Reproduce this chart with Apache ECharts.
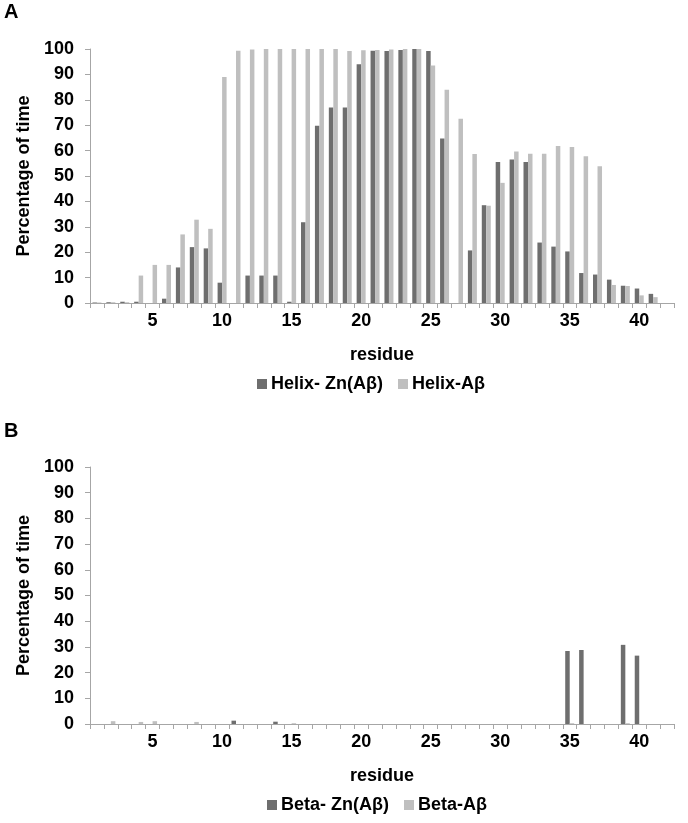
<!DOCTYPE html>
<html>
<head>
<meta charset="utf-8">
<script src="https://cdn.jsdelivr.net/npm/echarts@6/dist/echarts.min.js"></script>
<style>
  html, body { margin: 0; padding: 0; background: #fff; }
  #chart { width: 688px; height: 823px; }
</style>
</head>
<body>
<div id="chart"></div>
<script>
// residue numbers (x categories)
const residues = ['1','2','3','4','5','6','7','8','9','10','11','12','13','14','15','16','17','18','19','20','21',
  '22','23','24','25','26','27','28','29','30','31','32','33','34','35','36','37','38','39','40','41','42'];

// panel A: helix content (% of time)
const helixZn = [0.2, 0.3, 0.5, 0.5, 0, 1.7, 14, 22, 21.5, 8, 0, 10.8, 10.8, 10.8, 0.5, 31.8, 69.8, 77, 77, 94,
  99.3, 99.2, 99.6, 100, 99.2, 64.8, 0, 20.7, 38.5, 55.5, 56.5, 55.5, 23.8, 22.2, 20.3, 11.8, 11.2, 9.2, 6.8, 5.7, 3.6, 0];
const helixAb = [0.2, 0.3, 0.3, 10.8, 15, 15, 27, 32.8, 29.2, 89, 99.3, 99.8, 100, 100, 100, 100, 100, 100, 99.2, 99.5,
  99.6, 99.8, 100, 100, 93.5, 84, 72.5, 58.7, 38.3, 47.3, 59.6, 58.8, 58.8, 61.8, 61.4, 57.8, 53.8, 7.1, 6.7, 3, 2.3, 0];

// panel B: beta content (% of time)
const betaZn = [0, 0, 0, 0, 0, 0, 0, 0, 0, 0, 1.3, 0, 0, 0.9, 0, 0, 0, 0, 0, 0,
  0, 0, 0, 0, 0, 0, 0, 0, 0, 0, 0, 0, 0, 0, 28.4, 28.8, 0, 0, 30.8, 26.6, 0, 0];
const betaAb = [0, 1.1, 0, 0.8, 1.1, 0, 0, 0.8, 0, 0, 0, 0, 0, 0, 0.3, 0, 0, 0, 0, 0,
  0, 0, 0, 0, 0, 0, 0, 0, 0, 0, 0, 0, 0, 0, 0.3, 0, 0, 0, 0.3, 0, 0, 0];

const yTicks = [0, 10, 20, 30, 40, 50, 60, 70, 80, 90, 100];

const darkGrey = '#6e6e6e';
const lightGrey = '#bfbfbf';
const axisGrey = '#a6a6a6';
const font = 'Liberation Sans, Arial, sans-serif';

const chart = echarts.init(document.getElementById('chart'));

function xAxisFor(gridIndex) {
  return {
    type: 'category',
    gridIndex: gridIndex,
    data: residues,
    name: 'residue',
    nameLocation: 'middle',
    nameGap: 43,
    nameTextStyle: { fontFamily: font, fontWeight: 'bold', fontSize: 18, color: '#000' },
    axisLine: { lineStyle: { color: axisGrey, width: 1 } },
    axisTick: { show: true, interval: 0, length: 5, lineStyle: { color: axisGrey } },
    axisLabel: {
      interval: function (index, value) { return (index + 1) % 5 === 0; },
      margin: 9,
      fontFamily: font, fontWeight: 'bold', fontSize: 18, color: '#000'
    },
    splitLine: { show: false }
  };
}

function yAxisFor(gridIndex) {
  return {
    type: 'value',
    gridIndex: gridIndex,
    min: yTicks[0],
    max: yTicks[yTicks.length - 1],
    interval: yTicks[1] - yTicks[0],
    name: 'Percentage of time',
    nameLocation: 'middle',
    nameGap: 54,
    nameTextStyle: { fontFamily: font, fontWeight: 'bold', fontSize: 18, color: '#000' },
    axisLine: { show: true, lineStyle: { color: axisGrey, width: 1 } },
    axisTick: { show: true, length: 5, lineStyle: { color: axisGrey } },
    axisLabel: { margin: 16, fontFamily: font, fontWeight: 'bold', fontSize: 18, color: '#000' },
    splitLine: { show: false }
  };
}

function barSeries(name, data, color, idx) {
  return {
    name: name,
    type: 'bar',
    xAxisIndex: idx,
    yAxisIndex: idx,
    data: data,
    barWidth: 4.5,
    barGap: '0%',
    itemStyle: { color: color },
    animation: false
  };
}

const option = {
  backgroundColor: '#fff',
  animation: false,
  title: [
    { text: 'A', left: 4, top: 2, padding: 0, textStyle: { fontFamily: font, fontWeight: 'bold', fontSize: 20, color: '#000' } },
    { text: 'B', left: 4, top: 421, padding: 0, textStyle: { fontFamily: font, fontWeight: 'bold', fontSize: 20, color: '#000' } }
  ],
  legend: [
    {
      data: ['Helix- Zn(Aβ)', 'Helix-Aβ'],
      left: 252, top: 370,
      itemWidth: 10, itemHeight: 10, itemGap: 15,
      icon: 'rect',
      textStyle: { fontFamily: font, fontWeight: 'bold', fontSize: 18, color: '#000', padding: [0, 0, 0, -1] }
    },
    {
      data: ['Beta- Zn(Aβ)', 'Beta-Aβ'],
      left: 262, top: 791,
      itemWidth: 10, itemHeight: 10, itemGap: 15,
      icon: 'rect',
      textStyle: { fontFamily: font, fontWeight: 'bold', fontSize: 18, color: '#000', padding: [0, 0, 0, -1] }
    }
  ],
  grid: [
    { left: 90, top: 49, width: 584, height: 254 },
    { left: 90, top: 467, width: 584, height: 257 }
  ],
  xAxis: [xAxisFor(0), xAxisFor(1)],
  yAxis: [yAxisFor(0), yAxisFor(1)],
  series: [
    barSeries('Helix- Zn(Aβ)', helixZn, darkGrey, 0),
    barSeries('Helix-Aβ', helixAb, lightGrey, 0),
    barSeries('Beta- Zn(Aβ)', betaZn, darkGrey, 1),
    barSeries('Beta-Aβ', betaAb, lightGrey, 1)
  ]
};

chart.setOption(option);
</script>
</body>
</html>
